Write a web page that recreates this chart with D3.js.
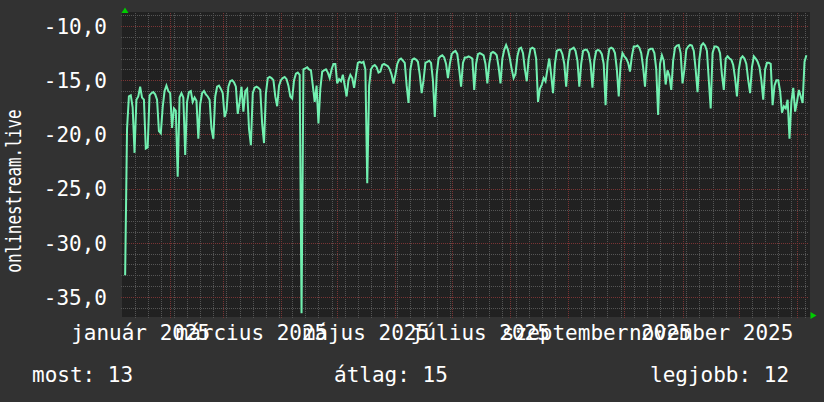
<!DOCTYPE html>
<html>
<head>
<meta charset="utf-8">
<script src="https://cdn.jsdelivr.net/npm/d3@7/dist/d3.min.js"></script>
<style>
body { margin: 0; background: #323232; }
svg { display: block; font-family: "DejaVu Sans Mono", monospace; }
</style>
</head>
<body>
<div class="container"></div>
<script>
// daily values, first one is 2025-01-08
const startDay = "2025-01-08"
const values = [
  -33, -19.5, -16.5, -16.4, -17.5, -21.7, -16.8,
  -16.5, -15.6, -16.6, -16.8, -21.3, -21.2, -16.4,
  -16.2, -16.1, -16.3, -16.8, -19.7, -19.9, -17.5,
  -16, -15.5, -16, -16.2, -19.4, -17.6, -17.8,
  -23.9, -16.6, -16.2, -16.6, -21.9, -17, -16.1,
  -16, -17, -16.6, -16.9, -20.4, -17.2, -16.2,
  -16, -16.3, -16.5, -16.8, -19.5, -20.4, -16.5,
  -15.6, -15.5, -15.8, -16.2, -18.4, -17.8, -15.6,
  -15.1, -15, -15.2, -15.6, -18.1, -17, -15.6,
  -17.9, -16, -15.8, -19.5, -21, -16.2, -15.7,
  -15.6, -15.7, -15.9, -19, -20.8, -16.2, -14.8,
  -14.7, -14.8, -15, -16.5, -17.4, -15.5, -15,
  -14.8, -14.7, -14.9, -15.5, -16.5, -16.7, -15,
  -14.4, -14.3, -14.5, -36.5, -14, -13.9, -13.8,
  -14, -14.1, -15.5, -17, -15.5, -19, -15.8,
  -14.2, -14.1, -14, -14.3, -14.8, -14, -13.5,
  -13.5, -15.3, -14.9, -15.1, -14.5, -15.5, -16.5,
  -15, -14.5, -14.8, -15.7, -14.5, -13.4, -13.3,
  -13.4, -13.3, -14, -24.5, -15.5, -14, -13.7,
  -13.6, -13.8, -14.3, -14.2, -13.6, -13.5, -13.6,
  -13.7, -14, -14.5, -15.3, -14.5, -13.5, -13.1,
  -13, -13.2, -13.4, -15.5, -17.1, -14, -13.1,
  -13, -13.1, -13.3, -14.5, -16.2, -15, -13.4,
  -13.3, -13.2, -13.4, -15, -18.4, -14.5, -13,
  -12.8, -12.7, -12.9, -13.5, -14.8, -13.5, -12.6,
  -12.4, -12.3, -12.6, -14, -15.6, -13.4, -12.9,
  -12.9, -12.8, -12.9, -13, -15.9, -13.5, -12.6,
  -12.5, -12.6, -12.7, -13.5, -15.3, -13.5, -12.5,
  -12.4, -12.5, -12.7, -13.8, -15.3, -13, -12.2,
  -11.75, -12.2, -13, -14, -14.8, -14.4, -12.8,
  -12.1, -12, -12.5, -14, -15.1, -13, -12.1,
  -12, -12.1, -13, -17, -15.8, -15.4, -14.8,
  -15.1, -14, -13, -14.5, -16.2, -13.5, -12.3,
  -12.2, -12.2, -12.6, -13.5, -15.6, -13.3, -12.2,
  -12.1, -12, -12.3, -13.2, -15.6, -13.5, -12.3,
  -12.2, -12.2, -12.5, -13.5, -15.7, -13.2, -12.3,
  -12.2, -12.3, -12.6, -13.5, -17.3, -13.3, -12.1,
  -12, -12.1, -12.5, -14, -16.5, -13.5, -12.5,
  -12.8, -13, -13.4, -14.2, -12.8, -11.9, -11.9,
  -11.8, -12, -12.5, -13.8, -15.6, -13, -12.2,
  -12.1, -12.1, -12.5, -14, -18.2, -13.5, -12.7,
  -13.2, -15.4, -14.1, -14.6, -15.9, -13.2, -12,
  -11.8, -11.75, -12.5, -15.3, -14, -12.2, -11.9,
  -11.75, -11.8, -12.3, -14, -16.1, -13, -11.8,
  -11.6, -11.8, -12.3, -15, -17.6, -12.5, -11.9,
  -11.9, -12, -12.5, -14.5, -15.9, -13, -12.8,
  -13, -13.1, -13.6, -14.8, -16.5, -14, -13,
  -12.8, -13, -13.5, -15, -16.2, -13.8, -12.8,
  -13, -13.3, -13.8, -15, -16.8, -14, -13.4,
  -13.4, -13.5, -17.3, -15.5, -15, -15, -16,
  -18, -17.4, -17.6, -16.8, -20.4, -17, -15.7,
  -17.9, -17, -15.9, -16.5, -17.1, -13.3, -12.7
]

const yTicks = [-10, -15, -20, -25, -30, -35]
const xTickDates = ["2025-01-16", "2025-03-16", "2025-05-16", "2025-07-16", "2025-09-16", "2025-11-16"]
const xTickLabels = ["január 2025", "március 2025", "május 2025", "július 2025", "szeptember 2025", "november 2025"]
const yTitle = "onlinestream.live"
const legendItems = ["most: 13", "átlag: 15", "legjobb: 12"]

const w = 824
const h = 402
const plotLeft = 124
const plotRight = 809
const plotTop = 13
const plotBottom = 315

const parseDay = d3.utcParse("%Y-%m-%d")
const first = parseDay(startDay)
const dataset = values.map((v, i) => [d3.utcDay.offset(first, i), v])

// Scales
const xScale = d3.scaleUtc()
.domain([new Date(Date.UTC(2025, 0, 7, 9, 20)), new Date(Date.UTC(2026, 0, 7, 9, 20))])
.range([plotLeft, plotRight])

const yScale = d3.scaleLinear()
.domain([-36.66, -8.8])
.range([plotBottom, plotTop])

const svg = d3.select(".container")
.append("svg")
.attr("width", w)
.attr("height", h)

svg.append("rect")
.attr("width", w)
.attr("height", h)
.attr("fill", "#323232")

svg.append("rect")
.attr("x", plotLeft - 2)
.attr("y", plotTop - 1)
.attr("width", plotRight - plotLeft + 3)
.attr("height", plotBottom - plotTop + 3)
.attr("fill", "#212121")

// grid
const [t0, t1] = xScale.domain()
const minorY = d3.range(-36, -8).filter(v => v % 5 !== 0)
const majorY = d3.range(-35, -8, 5)
const mondays = d3.utcMonday.range(t0, t1)
const months = d3.utcMonth.range(t0, t1)

const grid = svg.append("g")

grid.selectAll(".hminor")
.data(minorY)
.enter()
.append("line")
.attr("x1", plotLeft - 3)
.attr("x2", plotRight)
.attr("y1", d => Math.round(yScale(d)) + 0.5)
.attr("y2", d => Math.round(yScale(d)) + 0.5)
.attr("stroke", "#555555")
.attr("stroke-dasharray", "1,1")

grid.selectAll(".vminor")
.data(mondays)
.enter()
.append("line")
.attr("x1", d => Math.round(xScale(d)) + 0.5)
.attr("x2", d => Math.round(xScale(d)) + 0.5)
.attr("y1", plotTop)
.attr("y2", plotBottom + 3)
.attr("stroke", "#555555")
.attr("stroke-dasharray", "1,1")

grid.selectAll(".hmajor")
.data(majorY)
.enter()
.append("line")
.attr("x1", plotLeft - 3)
.attr("x2", plotRight)
.attr("y1", d => Math.round(yScale(d)) + 0.5)
.attr("y2", d => Math.round(yScale(d)) + 0.5)
.attr("stroke", "#7a3434")
.attr("stroke-dasharray", "1,1")

grid.selectAll(".vmajor")
.data(months)
.enter()
.append("line")
.attr("x1", d => Math.round(xScale(d)) + 0.5)
.attr("x2", d => Math.round(xScale(d)) + 0.5)
.attr("y1", plotTop)
.attr("y2", plotBottom + 3)
.attr("stroke", "#7a3434")
.attr("stroke-dasharray", "1,1")

// the line
svg.append("clipPath")
.attr("id", "plot")
.append("rect")
.attr("x", plotLeft)
.attr("y", plotTop)
.attr("width", plotRight - plotLeft)
.attr("height", plotBottom - plotTop)

const line = d3.line()
.x(d => xScale(d[0]))
.y(d => yScale(d[1]))

svg.append("path")
.datum(dataset)
.attr("clip-path", "url(#plot)")
.attr("d", line)
.attr("fill", "none")
.attr("stroke", "#72f0b0")
.attr("stroke-width", 2)
.attr("stroke-linejoin", "miter")

// Axises
const yAxis = d3.axisLeft(yScale)
.tickValues(yTicks)
.tickSize(0)
.tickPadding(17)
.tickFormat(d => d.toFixed(1).replace(".", ","))

svg.append("g")
.attr("transform", "translate(" + plotLeft + ",0)")
.call(yAxis)
.call(g => g.select(".domain").remove())
.call(g => g.selectAll("text")
  .attr("fill", "#ffffff")
  .attr("font-family", "DejaVu Sans Mono")
  .attr("font-size", 21)
  .attr("dy", "0.35em"))

const xAxis = d3.axisBottom(xScale)
.tickValues(xTickDates.map(parseDay))
.tickSize(0)
.tickFormat((d, i) => xTickLabels[i])

svg.append("g")
.attr("transform", "translate(0,340)")
.call(xAxis)
.call(g => g.select(".domain").remove())
.call(g => g.selectAll("text")
  .attr("y", 0)
  .attr("dy", null)
  .attr("fill", "#ffffff")
  .attr("font-family", "DejaVu Sans Mono")
  .attr("font-size", 21))

// arrows
svg.append("path")
.attr("d", "M121.5,13 L128.5,13 L125,7.5 Z")
.attr("fill", "#00cc00")

svg.append("path")
.attr("d", "M810.5,312 L810.5,319 L816.5,315.5 Z")
.attr("fill", "#00cc00")

// y title, condensed like the original
svg.append("text")
.attr("transform", "translate(21,191) rotate(-90) scale(0.76,1)")
.attr("text-anchor", "middle")
.attr("fill", "#ffffff")
.attr("font-size", 21)
.text(yTitle)

// legend
const legendX = [32, 334, 650]
svg.selectAll(".legend")
.data(legendItems)
.enter()
.append("text")
.attr("x", (d, i) => legendX[i])
.attr("y", 382)
.attr("fill", "#ffffff")
.attr("font-size", 21)
.text(d => d)
</script>
</body>
</html>
